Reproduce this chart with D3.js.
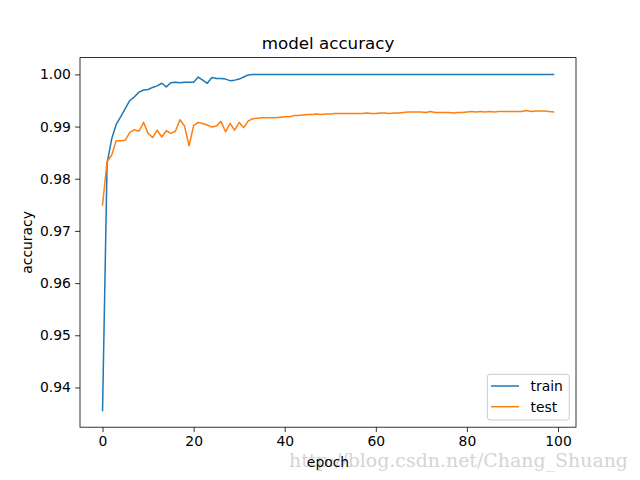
<!DOCTYPE html>
<html>
<head>
<meta charset="utf-8">
<script src="https://cdn.jsdelivr.net/npm/d3@7"></script>
<style>
  html, body { margin: 0; padding: 0; background: #fff; }
  svg { display: block; }
</style>
</head>
<body>
<script>
const epochs = d3.range(0, 100);
const trainAcc = [
  0.9356, 0.9830, 0.9876, 0.9904, 0.9919, 0.9935, 0.9950, 0.9957, 0.9966, 0.9970,
  0.9971, 0.9975, 0.9978, 0.9983, 0.9976, 0.9984, 0.9985, 0.9984, 0.9985, 0.9985,
  0.9985, 0.9995, 0.9989, 0.9983, 0.9994, 0.9992, 0.9992, 0.9991, 0.9988, 0.9989,
  0.9991, 0.9995, 0.9999, 1.0000, 1.0000, 1.0000, 1.0000, 1.0000, 1.0000, 1.0000,
  1.0000, 1.0000, 1.0000, 1.0000, 1.0000, 1.0000, 1.0000, 1.0000, 1.0000, 1.0000,
  1.0000, 1.0000, 1.0000, 1.0000, 1.0000, 1.0000, 1.0000, 1.0000, 1.0000, 1.0000,
  1.0000, 1.0000, 1.0000, 1.0000, 1.0000, 1.0000, 1.0000, 1.0000, 1.0000, 1.0000,
  1.0000, 1.0000, 1.0000, 1.0000, 1.0000, 1.0000, 1.0000, 1.0000, 1.0000, 1.0000,
  1.0000, 1.0000, 1.0000, 1.0000, 1.0000, 1.0000, 1.0000, 1.0000, 1.0000, 1.0000,
  1.0000, 1.0000, 1.0000, 1.0000, 1.0000, 1.0000, 1.0000, 1.0000, 1.0000, 1.0000
];
const testAcc = [
  0.9750, 0.9833, 0.9845, 0.9873, 0.9873, 0.9874, 0.9889, 0.9894, 0.9891, 0.9908,
  0.9887, 0.9879, 0.9893, 0.9880, 0.9892, 0.9887, 0.9891, 0.9913, 0.9901, 0.9863,
  0.9902, 0.9908, 0.9906, 0.9903, 0.9899, 0.9901, 0.9910, 0.9890, 0.9906, 0.9893,
  0.9908, 0.9898, 0.9911, 0.9915, 0.9916, 0.9917, 0.9917, 0.9917, 0.9917, 0.9918,
  0.9919, 0.9919, 0.9921, 0.9921, 0.9922, 0.9923, 0.9923, 0.9924, 0.9923, 0.9924,
  0.9924, 0.9925, 0.9925, 0.9925, 0.9925, 0.9925, 0.9925, 0.9925, 0.9926, 0.9925,
  0.9925, 0.9926, 0.9926, 0.9925, 0.9926, 0.9926, 0.9927, 0.9928, 0.9928, 0.9928,
  0.9928, 0.9927, 0.9929, 0.9927, 0.9927, 0.9927, 0.9927, 0.9926, 0.9927, 0.9927,
  0.9928, 0.9929, 0.9928, 0.9929, 0.9928, 0.9929, 0.9928, 0.9929, 0.9929, 0.9929,
  0.9929, 0.9929, 0.9929, 0.9931, 0.9929, 0.9930, 0.9930, 0.9930, 0.9929, 0.9928
];
const seriesNames = ["train", "test"];
const seriesColors = ["#1f77b4", "#ff7f0e"];
const xTicks = [0, 20, 40, 60, 80, 100];
const yTicks = [0.94, 0.95, 0.96, 0.97, 0.98, 0.99, 1.00];
const titleText = "model accuracy";
const xLabel = "epoch";
const yLabel = "accuracy";
const watermark = "http://blog.csdn.net/Chang_Shuang";

const W = 640, H = 480;
const L = 80, R = 576, T = 57.6, B = 427.2;
const FONT = "'DejaVu Sans', sans-serif";

const svg = d3.select("body").append("svg").attr("width", W).attr("height", H);
svg.append("rect").attr("width", W).attr("height", H).attr("fill", "#fff");

// domains with matplotlib-like 5% margins
const xExt = d3.extent(epochs);
const xPad = (xExt[1] - xExt[0]) * 0.05;
const allY = trainAcc.concat(testAcc);
const yExt = d3.extent(allY);
const yPad = (yExt[1] - yExt[0]) * 0.05;

const x = d3.scaleLinear().domain([xExt[0] - xPad, xExt[1] + xPad]).range([L, R]);
const y = d3.scaleLinear().domain([yExt[0] - yPad, yExt[1] + yPad]).range([B, T]);

// axes
const xAxis = d3.axisBottom(x).tickValues(xTicks).tickFormat(d3.format("d")).tickSizeInner(4.9).tickSizeOuter(0).tickPadding(4.2);
const yAxis = d3.axisLeft(y).tickValues(yTicks).tickFormat(d3.format(".2f")).tickSizeInner(4.9).tickSizeOuter(0).tickPadding(4.2);

const gx = svg.append("g").attr("transform", `translate(0,${B})`).call(xAxis);
const gy = svg.append("g").attr("transform", `translate(${L},0)`).call(yAxis);
[gx, gy].forEach(g => {
  g.select(".domain").remove();
  g.selectAll(".tick line").attr("stroke", "#000").attr("stroke-width", 0.8);
  g.selectAll(".tick text").attr("fill", "#000").style("font-family", FONT).style("font-size", "13.9px");
});

// lines
const line = d3.line().x((d, i) => x(epochs[i])).y(d => y(d));
const clip = svg.append("clipPath").attr("id", "clip").append("rect")
  .attr("x", L).attr("y", T).attr("width", R - L).attr("height", B - T);
[trainAcc, testAcc].forEach((s, k) => {
  svg.append("path").datum(s)
    .attr("d", line)
    .attr("fill", "none")
    .attr("stroke", seriesColors[k])
    .attr("stroke-width", 1.5)
    .attr("stroke-linejoin", "round")
    .attr("stroke-linecap", "square")
    .attr("clip-path", "url(#clip)");
});

// frame
svg.append("rect").attr("x", L).attr("y", T).attr("width", R - L).attr("height", B - T)
  .attr("fill", "none").attr("stroke", "#000").attr("stroke-width", 0.8);

// title & labels
svg.append("text").attr("x", (L + R) / 2).attr("y", 49.3).attr("text-anchor", "middle")
  .style("font-family", FONT).style("font-size", "16.7px").attr("fill", "#000").text(titleText);

// watermark
svg.append("text").attr("x", 289).attr("y", 467).attr("textLength", 339).attr("lengthAdjust", "spacingAndGlyphs")
  .style("font-family", "'DejaVu Serif', 'Liberation Serif', serif").style("font-size", "18px")
  .attr("fill", "#d4d4d4").text(watermark);

svg.append("text").attr("x", (L + R) / 2).attr("y", 466.5).attr("text-anchor", "middle")
  .style("font-family", FONT).style("font-size", "13.9px").attr("fill", "#000").text(xLabel);
svg.append("text").attr("transform", `translate(32,${(T + B) / 2}) rotate(-90)`).attr("text-anchor", "middle")
  .style("font-family", FONT).style("font-size", "13.9px").attr("fill", "#000").text(yLabel);

// legend
const lg = svg.append("g");
lg.append("rect").attr("x", 487.3).attr("y", 374.3).attr("width", 82).attr("height", 45.7)
  .attr("rx", 2.8).attr("fill", "#fff").attr("fill-opacity", 0.8).attr("stroke", "#cccccc").attr("stroke-width", 1);
seriesNames.forEach((name, k) => {
  const yy = 386 + k * 20.7;
  lg.append("line").attr("x1", 491).attr("x2", 519).attr("y1", yy).attr("y2", yy)
    .attr("stroke", seriesColors[k]).attr("stroke-width", 1.5);
  lg.append("text").attr("x", 530.5).attr("y", yy + 5).style("font-family", FONT).style("font-size", "13.9px")
    .attr("fill", "#000").text(name);
});
</script>
</body>
</html>
